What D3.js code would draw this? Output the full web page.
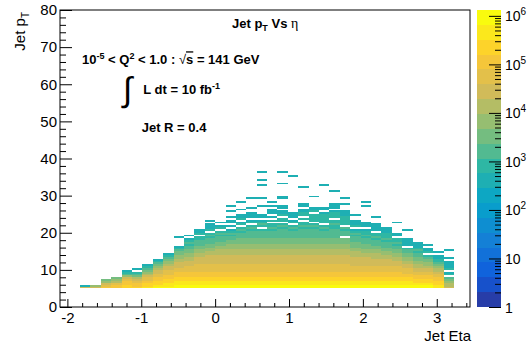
<!DOCTYPE html>
<html><head><meta charset="utf-8">
<script src="https://cdn.jsdelivr.net/npm/d3@7"></script>
<style>
body{margin:0;background:#fff}
svg{display:block}
text{font-family:"Liberation Sans",Arial,Helvetica,sans-serif;fill:#000}
</style>
</head><body>
<svg id="c" width="529" height="345"></svg>
<script>
// ---------------- data ----------------
// eta binning of the 2D histogram (64 bins over [-4.5,4.5]; bins 19..54 filled)
const etaFirstEdge = -1.828125;
const etaBinWidth = 0.140625;
const nEtaBins = 36;
// pT binning (0.5 GeV bins, first filled bin starts at 5 GeV)
const ptFirstEdge = 5;
const ptBinWidth = 0.5;
// z (colour) axis
const zMax = 1.32e6;
const nLevels = 20;
const levelCodes = "0123456789abcdefghij"; // contour level of each cell, '.' = empty
// one string per eta bin (left to right); character k = pT bin [5+0.5k, 5.5+0.5k]
const jetCounts = [
  "e8",
  "ec",
  "gfecb",
  "ggfdcb",
  "hhggfeca98",
  "hggfedba9.8",
  "ihhgffedcba98",
  "jihhggffeedcba98",
  "jiihhggfffeedccba98",
  "jjiihhgggffeeeddccbba98....8",
  "jjiihhgggfffeeeddccbbaa9a98.8",
  "jjiihhgggffffeeeeddccbbaaa99.988",
  "jjiihhgggffffeeeeeddccbbaaa9a9.9888.8",
  "jjiihhgggffffeeeeedddccbbaaa9a9.98.8",
  "jjiihhgggffffeeeeedddcccbbaa9a98.8.88.8..8..8",
  "jjiihhgggffffeeeeedddcccbbbaaa9a9.98.988..8...8",
  "jjiihhgggffffeeeeedddcccbbbaaaa9a9.98.888..8....8",
  "jjiihhgggffffeeeeedddcccbbbaaaa9.9a98.88....8...8......8..8...8",
  "jjiihhgggffffeeeeedddcccbbbaaaa9a99.9.8.888.8.8",
  "jjiihhgggffffeeeeedddcccbbbaaaaa9a9.99.988.88...88......8.....8",
  "jjiihhgggffffeeeeedddcccbbbaaaa9a9.98.888...................8",
  "jjiihhgggffffeeeeedddcccbbbaaaaa9a99.9.9988.88........8",
  "jjiihhgggffffeeeeedddcccbbbaaaaa9a9.9999.988.....8",
  "jjiihhgggffffeeeeedddcccbbbaaaa9a9.999998.88...........8",
  "jjiihhgggffffeeeeedddcccbbbaaaaa99a99.9998.888......8",
  "jjiihhgggffffeeeeedddcccbbb.aaa9a.99999888...8..8",
  "jjiihhgggfffeeeeedddccbbbaaa9a98.9888..8",
  "jjiihhgggfffeeeeeddccbbbaaa9a998.888........8.8",
  "jjiihhgggfffeeeedddccbbaaa9a99.8888...8",
  "jjiihhgggfffeeeeddccbbaaa9a999888",
  "jjiihhgggfffeeeddccbbaa9a99.88.....8",
  "jjiihhggfffeeddccbbaa9.8888....8",
  "jjihhggffeeddccbbaa9a9888",
  "jjihhggffeedccbba9.988.8",
  "iihhggffeddcba9988.8",
  "eddcba.98.98888.8...8"
];
const xTicks = [-2, -1, 0, 1, 2, 3];
const yTicks = [0, 10, 20, 30, 40, 50, 60, 70, 80];
const zTicks = [1, 10, 100, 1e3, 1e4, 1e5, 1e6];
const zTickLabels = [["1", ""], ["10", ""], ["10", "2"], ["10", "3"], ["10", "4"], ["10", "5"], ["10", "6"]];
// kBird palette
const birdStops = [0.0, 0.125, 0.25, 0.375, 0.5, 0.625, 0.75, 0.875, 1.0];
const birdR = [0.2082, 0.0592, 0.0780, 0.0232, 0.1802, 0.5301, 0.8186, 0.9956, 0.9764];
const birdG = [0.1664, 0.3599, 0.5041, 0.6419, 0.7178, 0.7492, 0.7328, 0.7862, 0.9832];
const birdB = [0.5293, 0.8684, 0.8385, 0.7914, 0.6425, 0.4662, 0.3499, 0.1968, 0.0539];

// ---------------- build ----------------
const svg = d3.select("#c");
const x = d3.scaleLinear().domain([-2.1, 3.45]).range([60, 470]);
const y = d3.scaleLinear().domain([0, 80]).range([307, 10]);
const zy = d3.scaleLog().domain([1, zMax]).range([307, 10]);
const zLevel = d3.scaleLog().domain([1, zMax]).range([0, nLevels]);
const levelStep = Math.log10(zMax) / nLevels;

const bird = d3.scaleLinear().domain(birdStops)
  .range(birdStops.map((s, i) => d3.rgb(birdR[i] * 255, birdG[i] * 255, birdB[i] * 255)))
  .interpolate(d3.interpolateRgb);
function levelColor(l) {
  const idx = Math.floor((l + 0.99) * 255 / nLevels);
  return bird(Math.min(idx, 254) / 254);
}
function valueColor(v) {
  return levelColor(Math.max(0, Math.min(nLevels - 1, Math.floor(zLevel(v)))));
}

const etaEdges = d3.range(nEtaBins + 1).map(i => etaFirstEdge + i * etaBinWidth);
const cells = [];
jetCounts.forEach((col, i) => {
  for (let k = 0; k < col.length; k++) {
    const ch = col[k];
    if (ch === ".") continue;
    const lev = levelCodes.indexOf(ch);
    cells.push({
      eta0: etaEdges[i], eta1: etaEdges[i + 1],
      pt0: ptFirstEdge + k * ptBinWidth, pt1: ptFirstEdge + (k + 1) * ptBinWidth,
      value: Math.pow(10, (lev + 0.5) * levelStep)
    });
  }
});

// cells
svg.append("g").attr("shape-rendering", "crispEdges")
  .selectAll("rect").data(cells).join("rect")
  .attr("x", d => x(d.eta0))
  .attr("y", d => y(d.pt1))
  .attr("width", d => x(d.eta1) - x(d.eta0))
  .attr("height", d => y(d.pt0) - y(d.pt1))
  .attr("fill", d => valueColor(d.value));

// frame
svg.append("rect").attr("x", 60).attr("y", 10).attr("width", 410).attr("height", 297)
  .attr("fill", "none").attr("stroke", "#000").attr("stroke-width", 1);

// x axis
const xMinor = d3.range(-2, 3.45, 0.2).filter(v => Math.abs(v - Math.round(v)) > 1e-6);
const gx = svg.append("g").attr("transform", "translate(0,307)");
gx.call(d3.axisBottom(x).tickValues(xMinor).tickSize(-4).tickSizeOuter(0).tickFormat(""));
const gx2 = svg.append("g").attr("transform", "translate(0,307)");
gx2.call(d3.axisBottom(x).tickValues(xTicks).tickSize(-8).tickSizeOuter(0).tickPadding(5)
  .tickFormat(d => String(d)));
gx2.selectAll("text").attr("font-size", 15).attr("font-family", "Liberation Sans, Arial, sans-serif");

// y axis
const yMinor = d3.range(0, 81, 2).filter(v => v % 10 !== 0);
const gy = svg.append("g").attr("transform", "translate(60,0)");
gy.call(d3.axisLeft(y).tickValues(yMinor).tickSize(-6).tickSizeOuter(0).tickFormat(""));
const gy2 = svg.append("g").attr("transform", "translate(60,0)");
gy2.call(d3.axisLeft(y).tickValues(yTicks).tickSize(-12).tickSizeOuter(0).tickPadding(3)
  .tickFormat(d => String(d)));
gy2.selectAll("text").attr("font-size", 15).attr("font-family", "Liberation Sans, Arial, sans-serif");

[gx, gx2, gy, gy2].forEach(g => { g.select(".domain").remove(); g.attr("color", "#000"); });

// colour bar
const bands = d3.range(nLevels).map(i => ({
  lo: Math.pow(10, i * levelStep), hi: Math.pow(10, (i + 1) * levelStep), level: i
}));
svg.append("g").attr("shape-rendering", "crispEdges")
  .selectAll("rect").data(bands).join("rect")
  .attr("x", 477).attr("width", 24)
  .attr("y", d => zy(d.hi)).attr("height", d => zy(d.lo) - zy(d.hi))
  .attr("fill", d => levelColor(d.level));

const zMinor = [];
[1, 10, 100, 1e3, 1e4, 1e5].forEach(dec => { for (let m = 2; m <= 9; m++) zMinor.push(dec * m); });
const gz = svg.append("g").attr("transform", "translate(501,0)");
gz.call(d3.axisRight(zy).tickValues(zMinor).tickSize(-6).tickSizeOuter(0).tickFormat(""));
const gz2 = svg.append("g").attr("transform", "translate(501,0)");
gz2.call(d3.axisRight(zy).tickValues(zTicks).tickSize(-12).tickSizeOuter(0).tickPadding(4).tickFormat(""));
[gz, gz2].forEach(g => { g.select(".domain").remove(); g.attr("color", "#000"); });
gz2.selectAll(".tick").each(function (d, i) {
  const t = d3.select(this).append("text").attr("x", 4).attr("dy", "0.36em")
    .attr("font-size", 14).attr("text-anchor", "start").attr("fill", "#000");
  t.append("tspan").text(zTickLabels[i][0]);
  if (zTickLabels[i][1]) t.append("tspan").attr("font-size", 10).attr("dy", "-0.6em").text(zTickLabels[i][1]);
});

// axis titles
svg.append("text").attr("x", 471).attr("y", 340.5).attr("text-anchor", "end")
  .attr("font-size", 15).text("Jet Eta");
const yt = svg.append("text").attr("transform", "translate(25,12) rotate(-90)")
  .attr("text-anchor", "end").attr("font-size", 15);
yt.append("tspan").text("Jet p");
yt.append("tspan").attr("font-size", 10).attr("dy", 4).text("T");

// annotations
const ann = svg.append("g").attr("font-weight", "bold").attr("font-size", 13);
const a1 = ann.append("text").attr("x", 232).attr("y", 28.3);
a1.append("tspan").text("Jet p");
a1.append("tspan").attr("font-size", 9).attr("dy", 3).text("T");
a1.append("tspan").attr("dy", -3).text(" Vs ");
a1.append("tspan").attr("font-weight", "normal").attr("font-family", "Liberation Serif, serif").attr("font-size", 14).text("η");

const a2 = ann.append("text").attr("x", 82).attr("y", 64.3);
a2.append("tspan").text("10");
a2.append("tspan").attr("font-size", 9).attr("dy", -5).text("-5");
a2.append("tspan").attr("dy", 5).text(" < Q");
a2.append("tspan").attr("font-size", 9).attr("dy", -5).text("2");
a2.append("tspan").attr("dy", 5).text(" < 1.0 :  ");
a2.append("tspan").attr("font-weight", "normal").text("√");
a2.append("tspan").attr("text-decoration", "overline").text("s");
a2.append("tspan").text(" = 141 GeV");

ann.append("text").attr("x", 123).attr("y", 101).attr("font-weight", "normal")
  .attr("font-family", "Liberation Serif, serif").attr("font-size", 34).text("∫");
const a3 = ann.append("text").attr("x", 143.3).attr("y", 94.3);
a3.append("tspan").text("L dt = 10 fb");
a3.append("tspan").attr("font-size", 9).attr("dy", -5).text("-1");

ann.append("text").attr("x", 141.7).attr("y", 131.7).text("Jet R = 0.4");
</script>
</body></html>
